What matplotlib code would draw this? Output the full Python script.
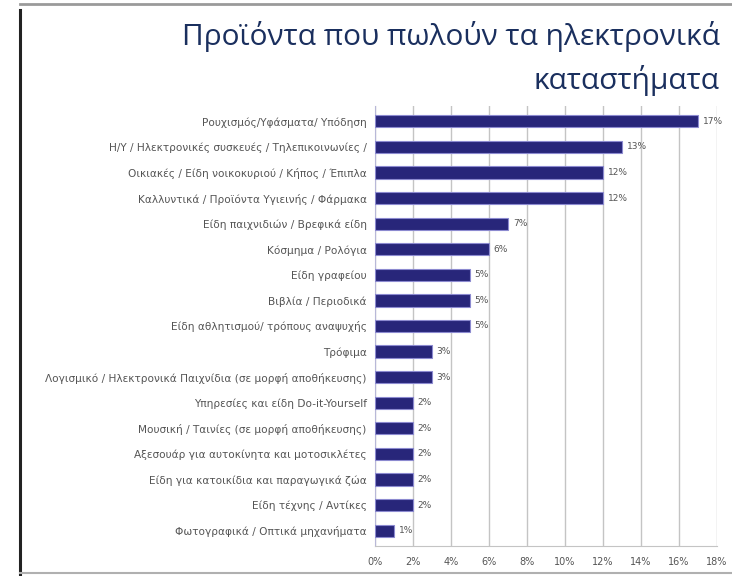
import numpy as np
import matplotlib.pyplot as plt
from matplotlib.lines import Line2D

categories = [
    "Ρουχισμός/Υφάσματα/ Υπόδηση",
    "Η/Υ / Ηλεκτρονικές συσκευές / Τηλεπικοινωνίες /",
    "Οικιακές / Είδη νοικοκυριού / Κήπος / Έπιπλα",
    "Καλλυντικά / Προϊόντα Υγιεινής / Φάρμακα",
    "Είδη παιχνιδιών / Βρεφικά είδη",
    "Κόσμημα / Ρολόγια",
    "Είδη γραφείου",
    "Βιβλία / Περιοδικά",
    "Είδη αθλητισμού/ τρόπους αναψυχής",
    "Τρόφιμα",
    "Λογισμικό / Ηλεκτρονικά Παιχνίδια (σε μορφή αποθήκευσης)",
    "Υπηρεσίες και είδη Do-it-Yourself",
    "Μουσική / Ταινίες (σε μορφή αποθήκευσης)",
    "Αξεσουάρ για αυτοκίνητα και μοτοσικλέτες",
    "Είδη για κατοικίδια και παραγωγικά ζώα",
    "Είδη τέχνης / Αντίκες",
    "Φωτογραφικά / Οπτικά μηχανήματα",
]
values = [17, 13, 12, 12, 7, 6, 5, 5, 5, 3, 3, 2, 2, 2, 2, 2, 1]
xticks = [0, 2, 4, 6, 8, 10, 12, 14, 16, 18]

plt.rcParams['font.family'] = ['DejaVu Sans']

fig = plt.figure(figsize=(7.32, 5.76), dpi=100)
fig.patch.set_facecolor('white')

# page border: dark left rule, grey top and bottom rules
fig.add_artist(Line2D([20/732, 20/732], [0, 1 - 10/576], color='#222222', lw=2.2))
fig.add_artist(Line2D([20/732, 1], [1 - 4/576, 1 - 4/576], color='#9a9a9a', lw=2))
fig.add_artist(Line2D([20/732, 1], [3/576, 3/576], color='#b0b0b0', lw=1.5))

title_col = '#1a2f5e'
fig.text(720/732, 1 - 36/576, "Προϊόντα που πωλούν τα ηλεκτρονικά",
         ha='right', va='center', fontsize=21.5, color=title_col,
         family='Open Sans', fontweight='medium')
fig.text(720/732, 1 - 80/576, "καταστήματα",
         ha='right', va='center', fontsize=21.5, color=title_col,
         family='Open Sans', fontweight='medium')

ax = fig.add_axes([375/732, 1 - 546/576, 342/732, 440/576])
y = np.arange(len(categories))
ax.barh(y, values, height=0.48, color='#28267a', edgecolor='#8c8ad0', linewidth=0.8, zorder=3)

for yi, v in zip(y, values):
    ax.text(v + 0.25, yi, f"{v}%", va='center', ha='left', fontsize=6.5, color='#555555')

ax.set_xlim(0, 18)
ax.set_ylim(len(categories) - 0.4, -0.6)
ax.set_xticks(xticks)
ax.set_xticklabels([f"{t}%" for t in xticks], fontsize=7, color='#555555')
ax.set_yticks(y)
ax.set_yticklabels(categories, fontsize=7.6, color='#555555')
ax.tick_params(axis='both', length=0, pad=8)
ax.tick_params(axis='y', pad=6)

ax.grid(axis='x', color='#c4c4c4', linewidth=1, zorder=0)
for s in ['top', 'right']:
    ax.spines[s].set_visible(False)
ax.spines['left'].set_color('#b8b8d8')
ax.spines['bottom'].set_color('#c4c4c4')

fig.savefig('out.png', dpi=100)
plt.close(fig)
